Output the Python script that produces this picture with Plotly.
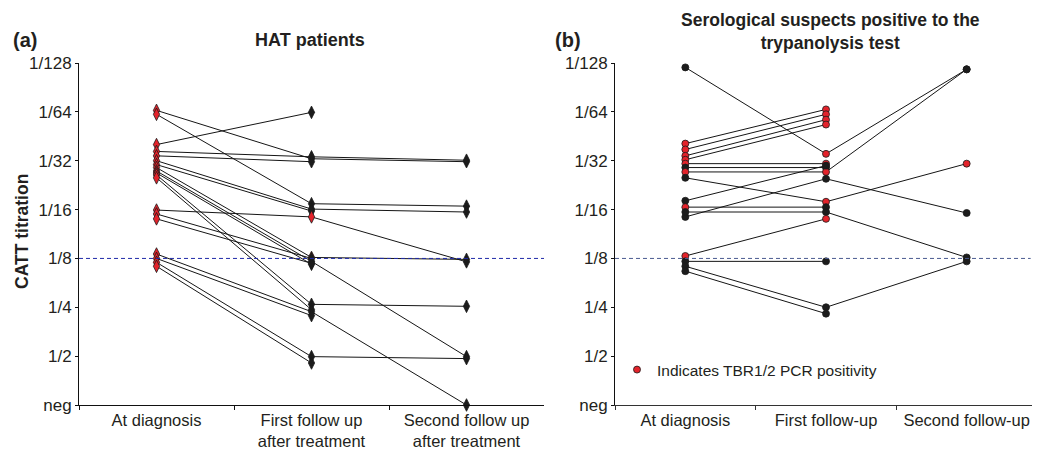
import plotly.graph_objects as go

# ---------------- data ----------------
categories_a = ["At diagnosis", "First follow up", "Second follow up"]
category_labels_a = ["At diagnosis", "First follow up<br>after treatment", "Second follow up<br>after treatment"]
categories_b = ["At diagnosis", "First follow-up", "Second follow-up"]
tick_vals = [0, 1, 2, 3, 4, 5, 6, 7]
tick_text = ["neg", "1/2", "1/4", "1/8", "1/16", "1/32", "1/64", "1/128"]
threshold = 3  # 1/8

# Panel (a) HAT patients: titre level on log2 scale (neg=0 ... 1/128=7), slightly offset as drawn
a_diag = [6.03, 5.95, 5.33, 5.19, 5.10, 5.00, 4.92, 4.86, 4.79, 4.75, 4.71, 4.65, 3.99, 3.91, 3.81, 3.09, 3.00, 2.92, 2.84]
a_fu1 = [5.04, 4.12, 5.99, 5.08, 4.98, 4.01, 3.97, 3.02, 2.94, 2.88, 2.06, 1.95, 3.85, 3.00, 2.90, 1.91, 1.83, 0.99, 0.86]
a_fu2 = [4.98, 4.07, None, 5.01, None, 3.95, None, 2.98, 0.99, None, 2.02, None, 2.93, None, None, 0.00, None, 0.95, None]
a_pcr_diag = [1, 1, 1, 1, 1, 1, 1, 1, 1, 1, 1, 1, 1, 1, 1, 1, 1, 1, 1]
a_pcr_fu1 = [0, 0, 0, 0, 0, 0, 0, 1, 0, 0, 0, 0, 1, 0, 0, 0, 0, 0, 0]
a_pcr_fu2 = [0, 0, 0, 0, 0, 0, 0, 0, 0, 0, 0, 0, 0, 0, 0, 0, 0, 0, 0]

# Panel (b) serological suspects positive to trypanolysis
b_diag = [6.91, 5.35, 5.23, 5.10, 5.02, 4.94, 4.86, 4.77, 4.65, 4.18, 3.85, 4.05, 3.95, 3.05, 2.94, 2.84, 2.74]
b_fu1 = [5.14, 6.05, 5.95, 5.84, 5.74, 4.94, 4.86, 4.77, 4.16, 4.90, 4.63, 4.05, 3.95, 3.81, 2.94, 2.00, 1.87]
b_fu2 = [6.87, None, None, None, None, None, None, 6.87, 4.94, None, 3.93, None, 3.02, None, None, 2.94, None]
b_pcr_diag = [0, 1, 1, 1, 1, 1, 0, 1, 0, 0, 0, 1, 0, 1, 0, 0, 0]
b_pcr_fu1 = [1, 1, 1, 1, 1, 1, 0, 1, 1, 0, 0, 0, 0, 1, 0, 0, 0]
b_pcr_fu2 = [0, 0, 0, 0, 0, 0, 0, 0, 1, 0, 0, 0, 0, 0, 0, 0, 0]

# ---------------- style ----------------
RED = "#e3232b"
BLACK = "#1c1c1c"
FONT = "Liberation Sans, Arial, sans-serif"
TXT = "#231f20"
W, H = 1040, 453
OFF = 8  # default page body margin shifts the figure by 8px


def px(x):
    return (x - OFF) / W


def py(y):
    return 1 - (y - OFF) / H


fig = go.Figure()


def add_panel(cats, diag, fu1, fu2, pcrs, xa, ya, symbol, size):
    xs, ys = [], []
    for d, f1, f2 in zip(diag, fu1, fu2):
        pts = [(cats[0], d), (cats[1], f1)]
        if f2 is not None:
            pts.append((cats[2], f2))
        for c, v in pts:
            xs.append(c)
            ys.append(v)
        xs.append(None)
        ys.append(None)
    fig.add_trace(go.Scatter(x=xs, y=ys, mode="lines", xaxis=xa, yaxis=ya,
                             line=dict(color="#151515", width=1), showlegend=False,
                             hoverinfo="skip", cliponaxis=False))
    for cat, vals, pcr in zip(cats, (diag, fu1, fu2), pcrs):
        xv = [cat for v in vals if v is not None]
        yv = [v for v in vals if v is not None]
        cv = [RED if p else BLACK for v, p in zip(vals, pcr) if v is not None]
        fig.add_trace(go.Scatter(x=xv, y=yv, mode="markers", xaxis=xa, yaxis=ya,
                                 marker=dict(symbol=symbol, size=size, color=cv,
                                             line=dict(color="#1a1a1a", width=0.8)),
                                 showlegend=False, cliponaxis=False))


add_panel(categories_a, a_diag, a_fu1, a_fu2, (a_pcr_diag, a_pcr_fu1, a_pcr_fu2), "x", "y", "diamond-tall", 9)
add_panel(categories_b, b_diag, b_fu1, b_fu2, (b_pcr_diag, b_pcr_fu1, b_pcr_fu2), "x2", "y2", "circle", 7)

# legend swatch
fig.add_trace(go.Scatter(x=[None], y=[None], mode="markers", xaxis="x2", yaxis="y2",
                         marker=dict(symbol="circle", size=7, color=RED, line=dict(color="#1a1a1a", width=0.8)),
                         name="Indicates TBR1/2 PCR positivity", showlegend=True))

ydom = [py(405), py(63)]

yax = dict(range=[0, 7], tickvals=tick_vals, ticktext=tick_text, showline=True, linecolor="#111",
           linewidth=1, ticks="outside", ticklen=3, tickcolor="#111", showgrid=False, zeroline=False,
           tickfont=dict(family=FONT, size=17, color=TXT), domain=ydom, fixedrange=True)

fig.update_layout(
    width=W, height=H, margin=dict(l=0, r=0, t=0, b=0, autoexpand=False),
    paper_bgcolor="white", plot_bgcolor="white",
    xaxis=dict(domain=[px(79), px(544)], type="category", categoryorder="array", categoryarray=categories_a,
               range=[-0.5, 2.5], tickvals=categories_a, ticktext=category_labels_a, tickson="boundaries",
               ticks="outside", ticklen=4, tickcolor="#111", showline=True, linecolor="#111", linewidth=1,
               showgrid=False, tickfont=dict(family=FONT, size=16.5, color=TXT), anchor="y"),
    yaxis=dict(**yax, anchor="x"),
    xaxis2=dict(domain=[px(615), px(1037)], type="category", categoryorder="array", categoryarray=categories_b,
                range=[-0.5, 2.5], tickvals=categories_b, ticktext=categories_b, tickson="boundaries",
                ticks="outside", ticklen=4, tickcolor="#333", showline=True, linecolor="#333", linewidth=1,
                showgrid=False, tickfont=dict(family=FONT, size=16.5, color=TXT), anchor="y2"),
    yaxis2=dict(**yax, anchor="x2"),
    legend=dict(x=px(617), y=py(353), xanchor="left", yanchor="top", bgcolor="rgba(0,0,0,0)",
                font=dict(family=FONT, size=15.5, color=TXT), itemwidth=30),
    shapes=[
        dict(type="line", xref="x domain", yref="y", x0=0, x1=1, y0=threshold, y1=threshold,
             line=dict(color="#1f2aa8", width=1, dash="4px,3px")),
        dict(type="line", xref="x2 domain", yref="y2", x0=0, x1=0.985, y0=threshold, y1=threshold,
             line=dict(color="#4a5a90", width=1, dash="4px,3px")),
    ],
    annotations=[
        dict(text="<b>(a)</b>", x=px(11), y=py(40), xref="paper", yref="paper", xanchor="left",
             yanchor="middle", showarrow=False, font=dict(family=FONT, size=20, color=TXT)),
        dict(text="<b>HAT patients</b>", x=px(310), y=py(40), xref="paper", yref="paper", xanchor="center",
             yanchor="middle", showarrow=False, font=dict(family=FONT, size=18, color=TXT)),
        dict(text="<b>(b)</b>", x=px(553), y=py(40), xref="paper", yref="paper", xanchor="left",
             yanchor="middle", showarrow=False, font=dict(family=FONT, size=20, color=TXT)),
        dict(text="<b>Serological suspects positive to the<br>trypanolysis test</b>", x=px(830), y=py(31),
             xref="paper", yref="paper", xanchor="center", yanchor="middle", showarrow=False,
             font=dict(family=FONT, size=17.5, color=TXT)),
        dict(text="<b>CATT titration</b>", x=px(22), y=py(232), xref="paper", yref="paper", xanchor="center",
             yanchor="middle", textangle=-90, showarrow=False, font=dict(family=FONT, size=17.5, color=TXT)),
    ],
)

fig.write_html("out.html")
